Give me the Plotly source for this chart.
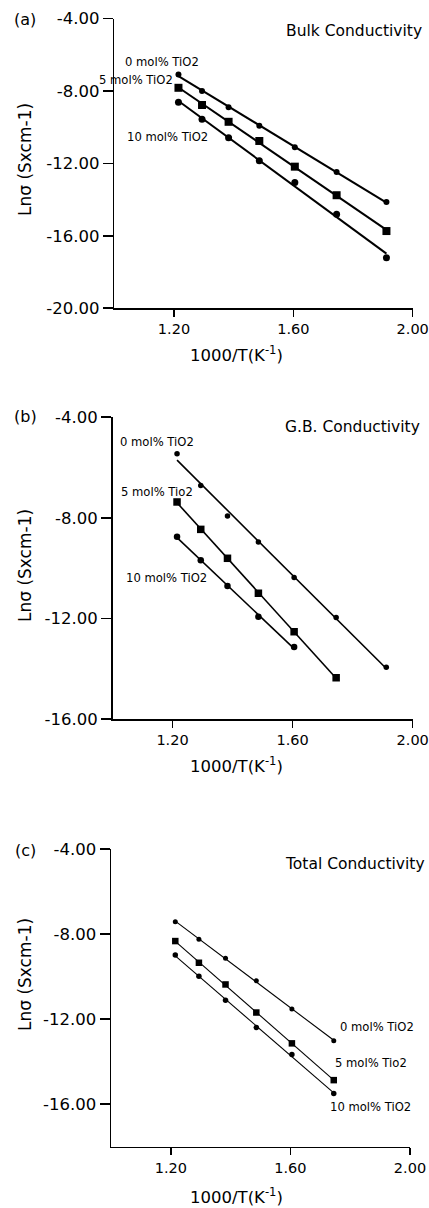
import numpy as np
import plotly.graph_objects as go

# ---- data ----
inv_T = [1.215, 1.294, 1.383, 1.486, 1.605, 1.745, 1.912]
x_ticks = [1.20, 1.60, 2.00]
x_tick_labels = ["1.20", "1.60", "2.00"]

bulk_0 = [-7.08, -8.00, -8.90, -9.92, -11.11, -12.48, -14.13]
bulk_5 = [-7.82, -8.77, -9.70, -10.76, -12.18, -13.76, -15.74]
bulk_10 = [-8.62, -9.56, -10.58, -11.85, -13.05, -14.81, -17.21]

gb_0 = [-5.45, -6.72, -7.93, -8.96, -10.37, -11.96, -13.94]
gb_5 = [-7.37, -8.46, -9.61, -11.00, -12.53, -14.36]
gb_10 = [-8.75, -9.69, -10.71, -11.93, -13.14]

tot_0 = [-7.42, -8.24, -9.14, -10.20, -11.53, -13.02]
tot_5 = [-8.33, -9.35, -10.37, -11.69, -13.14, -14.87]
tot_10 = [-8.99, -9.98, -11.11, -12.39, -13.66, -15.50]

y_ticks_a = [-4, -8, -12, -16, -20]
y_ticks_b = [-4, -8, -12, -16]
y_ticks_c = [-4, -8, -12, -16]

W, H = 429, 1208
FONT = "DejaVu Sans"


def px(x):
    return x / W


def py(y):
    return 1 - y / H


fig = go.Figure()

panels = [
    # (suffix, series, yrange, yticks, xdomain, ydomain, linewidth, marker sizes)
    ("", [bulk_0, bulk_5, bulk_10], [-20, -4], y_ticks_a,
     [px(114.3), px(412.7)], [py(308.1), py(18.7)], 2.0, [6, 8, 7]),
    ("2", [gb_0, gb_5, gb_10], [-16, -4], y_ticks_b,
     [px(112.5), px(412.7)], [py(719), py(417.2)], 1.6, [5.5, 7.5, 6.5]),
    ("3", [tot_0, tot_5, tot_10], [-18, -4], y_ticks_c,
     [px(111.0), px(410.0)], [py(1146.7), py(849)], 1.1, [5, 6.5, 5.5]),
]
symbols = ["circle", "square", "circle"]

layout_axes = {}
for suf, series, yr, yt, xd, yd, lw, msz in panels:
    xa = "x" + suf
    ya = "y" + suf
    for s, sym, ms in zip(series, symbols, msz):
        xs = np.array(inv_T[:len(s)])
        ys = np.array(s)
        k, b = np.polyfit(xs, ys, 1)
        fig.add_trace(go.Scatter(
            x=[xs[0], xs[-1]], y=[k * xs[0] + b, k * xs[-1] + b],
            mode="lines", line=dict(color="black", width=lw),
            xaxis=xa, yaxis=ya, showlegend=False, hoverinfo="skip",
            cliponaxis=False))
        fig.add_trace(go.Scatter(
            x=xs, y=ys, mode="markers",
            marker=dict(symbol=sym, size=ms, color="black"),
            xaxis=xa, yaxis=ya, showlegend=False, cliponaxis=False))
    layout_axes["xaxis" + suf] = dict(
        domain=xd, range=[1.0, 2.0], tickvals=x_ticks, ticktext=x_tick_labels,
        ticks="outside", ticklen=7, tickwidth=1.5, tickcolor="black",
        showline=True, linecolor="black", linewidth=1.5,
        showgrid=False, zeroline=False, anchor=ya, automargin=False,
        ticklabeloverflow="allow",
        tickfont=dict(family=FONT, size=14.5, color="black"))
    layout_axes["yaxis" + suf] = dict(
        domain=yd, range=yr, tickvals=yt,
        ticktext=["%.2f" % v for v in yt],
        ticks="outside", ticklen=10, tickwidth=1.5, tickcolor="black",
        showline=True, linecolor="black", linewidth=1.5,
        showgrid=False, zeroline=False, anchor=xa, automargin=False,
        ticklabeloverflow="allow",
        tickfont=dict(family=FONT, size=16.5, color="black"))

annots = []


def txt(text, x, y, size, xanchor="left", angle=0):
    annots.append(dict(text=text, x=px(x), y=py(y), xref="paper", yref="paper",
                       xanchor=xanchor, yanchor="middle", showarrow=False,
                       textangle=angle,
                       font=dict(family=FONT, size=size, color="black")))


# panel labels and titles
txt("(a)", 25, 20, 16, "center")
txt("(b)", 25, 416, 16, "center")
txt("(c)", 25, 850, 16, "center")
txt("Bulk Conductivity", 284, 31, 15.5)
txt("G.B. Conductivity", 283, 427, 15.5)
txt("Total Conductivity", 283, 864, 15.5)

# series labels
txt("0 mol% TiO2", 123, 62, 11.6)
txt("5 mol% TiO2", 97, 80, 11.6)
txt("10 mol% TiO2", 125, 137, 11.6)
txt("0 mol% TiO2", 118, 442, 11.6)
txt("5 mol% Tio2", 119, 492, 11.6)
txt("10 mol% TiO2", 124, 578, 11.6)
txt("0 mol% TiO2", 338, 1027, 11.6)
txt("5 mol% Tio2", 333, 1063, 11.6)
txt("10 mol% TiO2", 328, 1107, 11.6)

# axis titles
for yc in (160, 566, 975):
    txt("Lnσ (Sxcm-1)", 25, yc, 17, "center", -90)
for yc in (354, 765, 1196):
    txt("1000/T(K<sup>-1</sup>)", 236, yc, 16.5, "center")

fig.update_layout(
    width=W, height=H, margin=dict(l=0, r=0, t=0, b=0, autoexpand=False),
    paper_bgcolor="white", plot_bgcolor="white", hovermode=False,
    annotations=annots, **layout_axes)

# remove the browser's default 8px page margin so the figure fills the window
fig.write_html("out.html",
               config={"displayModeBar": False, "staticPlot": True},
               post_script="document.body.style.margin='0';"
                           "document.body.style.overflow='hidden';")
